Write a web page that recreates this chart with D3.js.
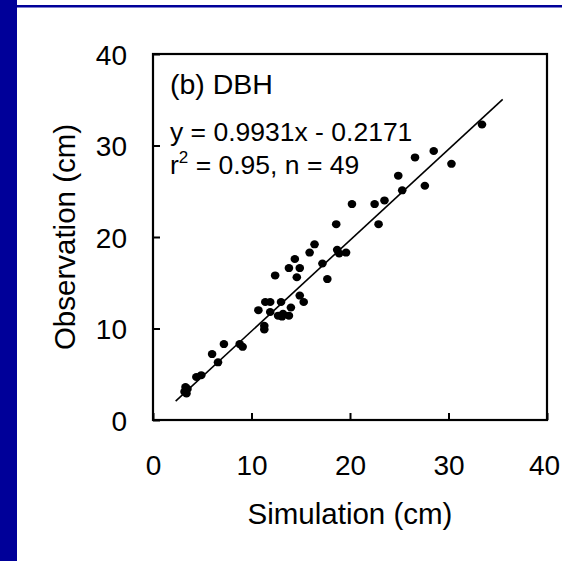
<!DOCTYPE html>
<html><head><meta charset="utf-8">
<script src="https://cdn.jsdelivr.net/npm/d3@7"></script>
<style>html,body{margin:0;padding:0;background:#fff;overflow:hidden}</style>
</head><body>
<script>
// ---- data ----
const simulation = [33.4,28.5,26.6,30.3,24.9,27.6,25.3,20.2,22.5,23.5,18.6,22.9,16.4,15.9,18.7,18.9,19.6,17.2,17.7,14.4,13.8,14.9,14.6,12.4,14.9,15.3,11.4,11.9,13.0,10.7,11.9,12.7,13.2,13.8,14.0,11.3,11.3,7.2,8.8,9.1,6.0,6.6,4.4,4.9,3.3,3.4,3.2,3.5,13.1];
const observation = [32.3,29.4,28.7,28.0,26.7,25.6,25.1,23.6,23.6,24.0,21.4,21.4,19.2,18.3,18.6,18.2,18.3,17.1,15.4,17.6,16.6,16.6,15.6,15.8,13.6,12.9,12.9,12.9,12.9,12.0,11.8,11.4,11.6,11.4,12.3,10.3,9.9,8.3,8.3,8.0,7.2,6.3,4.7,4.9,3.6,2.9,3.1,3.4,11.3];
const xTicks = [0,10,20,30,40];
const yTicks = [0,10,20,30,40];
const slope = 0.9931, intercept = -0.2171;
const fitRange = [2.3, 35.5];
const panelTitle = "(b) DBH";
const eqText = "y = 0.9931x - 0.2171";
const xTitle = "Simulation (cm)";
const yTitle = "Observation (cm)";

const W = 562, H = 561;
const FONT = "'Liberation Sans', Arial, sans-serif";
const svg = d3.select("body").append("svg").attr("width", W).attr("height", H)
  .style("font-family", FONT);

// decoration
svg.append("rect").attr("x",0).attr("y",0).attr("width",17).attr("height",H).attr("fill","#000099");
svg.append("rect").attr("x",17).attr("y",5).attr("width",W-17).attr("height",2.5).attr("fill","#000099");

const x = d3.scaleLinear().domain([0,40]).range([153,547]);
const y = d3.scaleLinear().domain([0,40]).range([420,54]);

// axes
const gx = svg.append("g").attr("transform",`translate(0,${y(0)})`)
  .call(d3.axisBottom(x).tickValues(xTicks).tickFormat(d3.format("d")).tickSizeInner(-7).tickSizeOuter(0).tickPadding(35));
const gy = svg.append("g").attr("transform",`translate(${x(0)},0)`)
  .call(d3.axisLeft(y).tickValues(yTicks).tickFormat(d3.format("d")).tickSizeInner(-7).tickSizeOuter(0).tickPadding(26));
[gx,gy].forEach(g=>{
  g.select(".domain").remove();
  g.selectAll("line").attr("stroke","#000").attr("stroke-width",2);
  g.selectAll("text").attr("font-size",28).attr("fill","#000").style("font-family",FONT);
});
gy.selectAll("text").attr("dy","0.36em");
gx.selectAll("text").filter(d=>d===40).attr("dx",-3);

// frame
svg.append("rect").attr("x",x(0)).attr("y",y(40)).attr("width",x(40)-x(0)).attr("height",y(0)-y(40))
  .attr("fill","none").attr("stroke","#000").attr("stroke-width",2.2);

// fit line
svg.append("line")
  .attr("x1",x(fitRange[0])).attr("y1",y(slope*fitRange[0]+intercept))
  .attr("x2",x(fitRange[1])).attr("y2",y(slope*fitRange[1]+intercept))
  .attr("stroke","#000").attr("stroke-width",1.6);

// points
svg.append("g").selectAll("ellipse").data(simulation.map((s,i)=>[s,observation[i]])).join("ellipse")
  .attr("cx",d=>x(d[0])).attr("cy",d=>y(d[1])).attr("rx",4.3).attr("ry",4).attr("fill","#000");

// texts
svg.append("text").attr("x",170).attr("y",94).attr("font-size",28.5).text(panelTitle);
svg.append("text").attr("x",170).attr("y",141).attr("font-size",26.5).text(eqText);
const t3 = svg.append("text").attr("x",170).attr("y",174).attr("font-size",26.5);
t3.append("tspan").text("r");
t3.append("tspan").attr("font-size",17).attr("dy",-11).text("2");
t3.append("tspan").attr("dy",11).text(" = 0.95, n = 49");

svg.append("text").attr("x",(x(0)+x(40))/2).attr("y",524).attr("text-anchor","middle").attr("font-size",29.5).text(xTitle);
svg.append("text").attr("transform",`translate(75,${(y(0)+y(40))/2}) rotate(-90)`)
  .attr("text-anchor","middle").attr("font-size",29.5).text(yTitle);
</script>
</body></html>
